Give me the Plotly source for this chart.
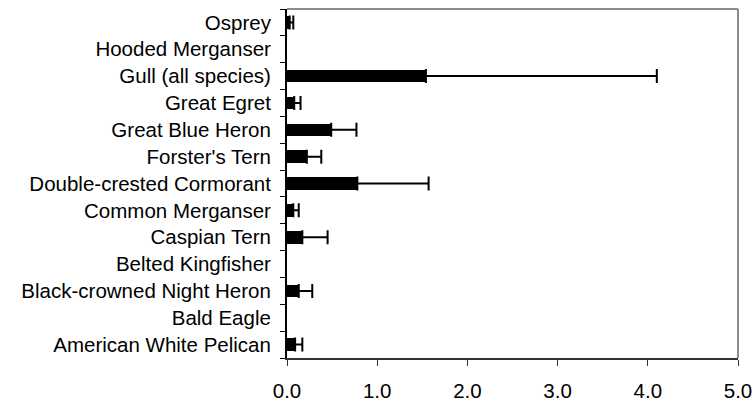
import plotly.graph_objects as go

# Species, bottom to top as drawn on the category axis
species = [
    "American White Pelican",
    "Bald Eagle",
    "Black-crowned Night Heron",
    "Belted Kingfisher",
    "Caspian Tern",
    "Common Merganser",
    "Double-crested Cormorant",
    "Forster's Tern",
    "Great Blue Heron",
    "Great Egret",
    "Gull (all species)",
    "Hooded Merganser",
    "Osprey",
]
mean_values = [0.09, 0.0, 0.13, 0.0, 0.17, 0.07, 0.78, 0.22, 0.49, 0.08, 1.54, 0.0, 0.03]
upper_values = [0.17, 0.0, 0.28, 0.0, 0.45, 0.13, 1.57, 0.38, 0.77, 0.15, 4.10, 0.0, 0.07]

x_ticks = [0, 1, 2, 3, 4, 5]
x_tick_labels = ["0.0", "1.0", "2.0", "3.0", "4.0", "5.0"]

font_family = "Liberation Sans, Arial, sans-serif"
font_size = 20.5

fig = go.Figure()

fig.add_trace(go.Bar(
    x=mean_values,
    y=species,
    orientation="h",
    width=0.47,
    marker=dict(color="black", line=dict(width=0)),
    hoverinfo="x+y",
))

# Upper error whiskers only for species with a nonzero mean
err_y = [s for s, m in zip(species, mean_values) if m > 0]
err_x = [m for m in mean_values if m > 0]
err_plus = [u - m for u, m in zip(upper_values, mean_values) if m > 0]

fig.add_trace(go.Scatter(
    x=err_x,
    y=err_y,
    mode="markers",
    marker=dict(size=1, opacity=0),
    error_x=dict(
        type="data",
        symmetric=False,
        array=err_plus,
        arrayminus=[0] * len(err_plus),
        color="black",
        thickness=2,
        width=7,
    ),
    hoverinfo="skip",
    showlegend=False,
))

fig.update_layout(
    width=756,
    height=403,
    margin=dict(l=287, r=18, t=9, b=45),
    paper_bgcolor="white",
    plot_bgcolor="white",
    showlegend=False,
    bargap=0,
    font=dict(family=font_family, size=font_size, color="black"),
    xaxis=dict(
        range=[0, 5],
        tickvals=x_ticks,
        ticktext=x_tick_labels,
        ticks="outside",
        ticklen=6,
        tickwidth=1,
        tickcolor="#333333",
        showline=True,
        linecolor="#333333",
        linewidth=2,
        showgrid=False,
        zeroline=False,
        automargin=False,
        ticklabelstandoff=7,
        tickfont=dict(family=font_family, size=font_size, color="black"),
    ),
    yaxis=dict(
        type="category",
        categoryorder="array",
        categoryarray=species,
        range=[-0.5, len(species) - 0.5],
        ticks="outside",
        tickson="boundaries",
        ticklen=5,
        tickwidth=1,
        tickcolor="black",
        showline=True,
        linecolor="black",
        linewidth=2,
        showgrid=False,
        zeroline=False,
        automargin=False,
        ticklabelstandoff=10,
        tickfont=dict(family=font_family, size=font_size, color="black"),
    ),
    shapes=[
        dict(type="line", xref="paper", yref="paper", x0=0, x1=1, y0=1, y1=1,
             line=dict(color="#8c8c8c", width=2)),
        dict(type="line", xref="paper", yref="paper", x0=1, x1=1, y0=0, y1=1,
             line=dict(color="#8c8c8c", width=2)),
    ],
)

fig.write_html("out.html")
